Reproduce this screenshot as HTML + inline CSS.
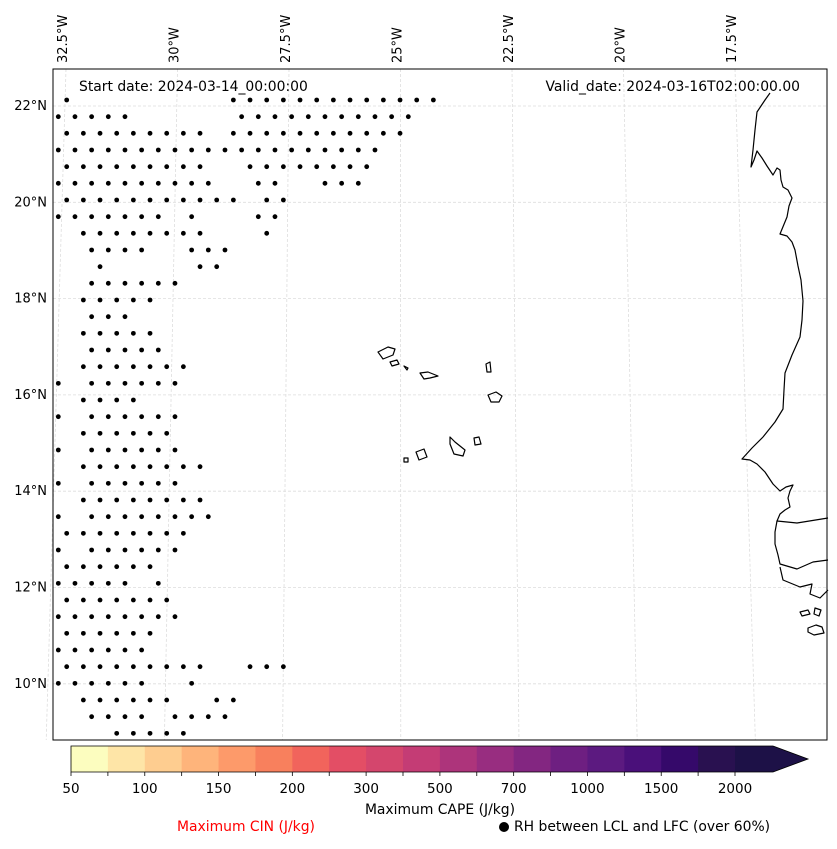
<!DOCTYPE html>
<html><head><meta charset="utf-8"><style>
body{margin:0;background:#fff;font-family:"DejaVu Sans","Liberation Sans",sans-serif;}
svg text{font-family:"DejaVu Sans","Liberation Sans",sans-serif;}
</style></head><body>
<svg width="837" height="845" xmlns="http://www.w3.org/2000/svg">
<g id="grid"></g>
<g id="dots"></g>
<g fill="none" stroke="#000" stroke-width="1.2" stroke-linejoin="round">
<polyline points="770,93 765,100 757,112 755,130 753,150 751,167 754,160 757,151 762,158 767,166 773,175 777,168 780,170 781,180 783,187 788,190 792,198 789,206 787,217 780,234 787,236 792,242 795,250 798,266 801,280 803,301 802,320 800,337 792,355 785,373 784,390 783,409 775,422 763,437 752,448 742,459 750,460 757,464 765,472 773,484 780,491 786,487 793,485 790,491 788,498 790,507 785,510 780,514 777,521 797,523 828,518"/>
<polyline points="777,521 775,532 775,544 778,555 780,564 797,569 813,562 828,560"/>
<polyline points="780,567 783,580 800,587 812,584 810,594 820,598 828,590"/>
<path d="M800,612 l8,-2 l2,4 l-8,2z M815,608 l6,2 l-2,6 l-5,-2z M808,628 l8,-3 l6,2 l2,6 l-10,2 l-6,-3z"/>
<path d="M378,352 l10,-5 l7,2 l-2,6 l-10,4z M390,362 l7,-2 l2,4 l-7,2z M404,366 l4,2 l-1,2z M420,373 l8,-1 l10,4 l-8,2 l-6,1z M486,364 l4,-2 l1,10 l-4,0z M488,395 l8,-3 l6,4 l-3,6 l-8,0z M450,437 l5,5 l10,8 l-2,6 l-9,-2 l-4,-10z M474,438 l5,-1 l2,7 l-6,1z M416,452 l8,-3 l3,8 l-8,3z M404,458 l4,0 l0,4 l-4,0z"/>
</g>
<rect x="53" y="69" width="774" height="671" fill="none" stroke="#000" stroke-width="1"/>
<g id="latlab" font-size="13" text-anchor="end"></g>
<g id="lonlab" font-size="13"></g>
<text x="79" y="91" font-size="13.9">Start date: 2024-03-14_00:00:00</text>
<text x="800" y="91" font-size="13.9" text-anchor="end">Valid_date: 2024-03-16T02:00:00.00</text>
<g id="cbar"></g>
<text x="440" y="814" font-size="13.9" text-anchor="middle">Maximum CAPE (J/kg)</text>
<text x="246" y="831" font-size="13.9" text-anchor="middle" fill="#ff0000">Maximum CIN (J/kg)</text>
<circle cx="504" cy="827" r="5" fill="#000"/>
<text x="514" y="831" font-size="13.9">RH between LCL and LFC (over 60%)</text>
</svg>
<script>
const latLabels=["22°N","20°N","18°N","16°N","14°N","12°N","10°N"];
const lonLabels=["32.5°W","30°W","27.5°W","25°W","22.5°W","20°W","17.5°W"];
const levels=["50","75","100","125","150","175","200","250","300","400","500","600","700","850","1000","1250","1500","1750","2000"];
const colors=["#fcfdbf","#fee5a7","#fecd90","#feb47b","#fd9a6a","#f8805d","#f1645c","#e34e65","#d4466d","#c43c75","#ad347b","#982d80","#832681","#6e1f81","#5c1a80","#4a107a","#35096a","#291150"];
const extColor="#1d1147";
// dot rows: [rowIndex, xmin, xmax]
const dotRows=[[0,66,66],[0,233,433],[1,58,125],[1,241,408],[2,66,200],[2,233,400],[3,58,375],[4,66,200],[4,250,366],[5,58,208],[5,258,275],[5,325,358],[6,66,233],[6,266,283],[7,58,158],[7,191,191],[7,258,275],[8,83,200],[8,266,266],[8,325,325],[9,91,141],[9,191,225],[10,100,100],[10,200,216],
[11,91,175],[12,83,150],[13,91,125],[14,83,150],[15,91,158],[16,83,183],[17,58,58],[17,91,175],[18,83,133],[19,58,58],[19,91,175],[20,83,166],[21,58,58],[21,91,175],[22,83,200],[23,58,58],[23,91,175],[24,83,200],
[25,58,58],[25,91,208],[26,66,183],[27,58,58],[27,91,175],[28,66,150],[29,58,125],[29,158,158],[30,66,150],[30,166,166],[31,58,158],[31,175,175],[32,66,150],[33,58,141],[34,66,150],[34,166,200],[34,250,283],[35,58,141],[35,191,191],[36,83,166],[36,216,233],[37,91,141],[37,175,225],[38,116,183]];
const NS="http://www.w3.org/2000/svg";
function mk(t,a,p){const e=document.createElementNS(NS,t);for(const k in a)e.setAttribute(k,a[k]);p.appendChild(e);return e;}
const latY=i=>106+i*96.3;
const lonTop=i=>62+i*111.5;
const lonBot=i=>{const x=lonTop(i);return x+(x-392)*0.06;};
const grid=document.getElementById('grid');
latLabels.forEach((l,i)=>{const y=latY(i);
 const ln=mk('line',{x1:53,y1:y,x2:827,y2:y,stroke:'#ddd','stroke-dasharray':'3,2','stroke-width':0.8},grid);
 
 
 const t=mk('text',{x:47,y:y+4},document.getElementById('latlab'));t.textContent=l;
 
 
});
lonLabels.forEach((l,i)=>{const x=lonTop(i);
 const ln=mk('line',{x1:x+4,y1:69,x2:lonBot(i)+4,y2:740,stroke:'#ddd','stroke-dasharray':'3,2','stroke-width':0.8},grid);
 
 
 const t=mk('text',{x:0,y:0,transform:`translate(${x+5},63) rotate(-90)`},document.getElementById('lonlab'));t.textContent=l;
 
 
});
const dots=document.getElementById('dots');
const DX=16.667,DY=16.667;
dotRows.forEach(r=>{const y=100+r[0]*DY;const off=r[0]%2?58.3:66.7;
 for(let x=off;x<=r[2]+3;x+=DX){if(x<r[1]-3)continue;
  const c=mk('circle',{cx:x,cy:y,r:2.4,fill:'#000'},dots);
  
  }
});
const cb=document.getElementById('cbar');
const x0=71,x1=735,n=colors.length,w=(x1-x0)/n;
colors.forEach((c,i)=>{const r=mk('rect',{x:x0+i*w,y:746,width:w+0.5,height:26,fill:c},cb);
 
 });
const tri=mk('polygon',{points:`${x1},746 ${x1+38},746 808,759 ${x1+38},772 ${x1},772`,fill:extColor},cb);


mk('polyline',{points:`${x1+38},746 ${x0},746 ${x0},772 ${x1+38},772 808,759 ${x1+38},746`,fill:'none',stroke:'#000','stroke-width':0.8},cb);
levels.forEach((l,i)=>{const x=x0+i*w;mk('line',{x1:x,y1:772,x2:x,y2:776,stroke:'#000','stroke-width':0.8},cb);
 if(i%2===0){const t=mk('text',{x:x,y:793,'font-size':13.5,'text-anchor':'middle'},cb);t.textContent=l;
 
 }});
</script>
</body></html>
